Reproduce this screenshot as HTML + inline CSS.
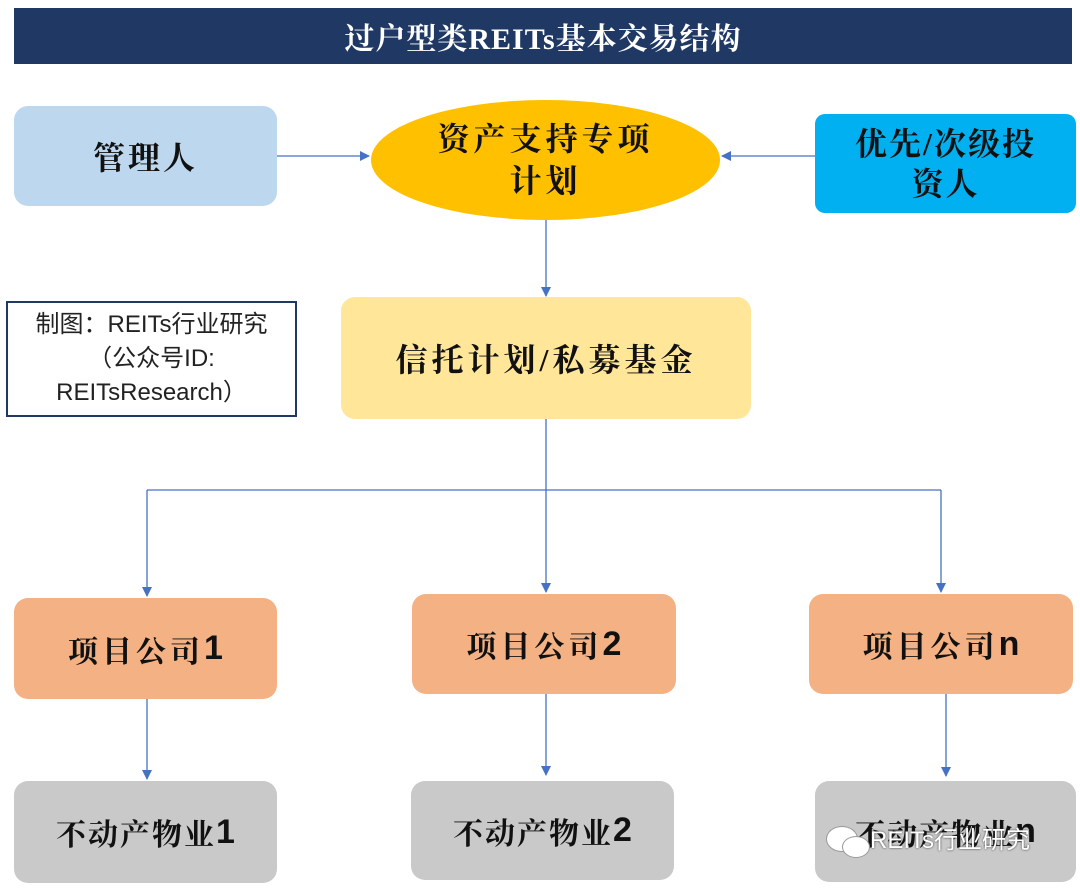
<!DOCTYPE html>
<html><head><meta charset="utf-8"><style>
body{margin:0;width:1080px;height:888px;background:#fff;position:relative;overflow:hidden;font-family:"Liberation Serif","Noto Serif CJK SC",serif}
.b{position:absolute;display:flex;align-items:center;justify-content:center;text-align:center;color:#111;border-radius:14px;box-sizing:border-box;font-weight:bold}
.t{position:absolute;left:14px;top:8px;width:1058px;height:56px;background:#1f3864;color:#fff;font-size:30px;font-weight:bold;display:flex;align-items:center;justify-content:center;letter-spacing:1px}
.p{background:#f4b183;font-size:30px;letter-spacing:4px}
.g{background:#c9c9c9;font-size:30px;letter-spacing:2px}
.n{font-family:"Liberation Sans",sans-serif;font-weight:bold;letter-spacing:0;font-size:34px}
</style></head><body>
<div class="t">过户型类REITs基本交易结构</div>
<svg width="1080" height="888" style="position:absolute;left:0;top:0">
<defs><marker id="a" markerWidth="10" markerHeight="10" refX="9" refY="5" orient="auto" markerUnits="userSpaceOnUse"><path d="M0,0L10,5L0,10z" fill="#4472c4"/></marker></defs>
<g stroke="#4472c4" stroke-width="1.3" fill="none">
<line x1="277" y1="156" x2="369" y2="156" marker-end="url(#a)"/>
<line x1="815" y1="156" x2="722" y2="156" marker-end="url(#a)"/>
<line x1="546" y1="220" x2="546" y2="296" marker-end="url(#a)"/>
<line x1="546" y1="419" x2="546" y2="490"/>
<line x1="147" y1="490" x2="941" y2="490"/>
<line x1="147" y1="490" x2="147" y2="596" marker-end="url(#a)"/>
<line x1="546" y1="490" x2="546" y2="592" marker-end="url(#a)"/>
<line x1="941" y1="490" x2="941" y2="592" marker-end="url(#a)"/>
<line x1="147" y1="699" x2="147" y2="779" marker-end="url(#a)"/>
<line x1="546" y1="694" x2="546" y2="775" marker-end="url(#a)"/>
<line x1="946" y1="694" x2="946" y2="776" marker-end="url(#a)"/>
</g>
<ellipse cx="545.5" cy="160" rx="174.5" ry="60" fill="#ffc000"/>
</svg>
<div class="b" style="left:14px;top:106px;width:263px;height:100px;background:#bdd7ee;font-size:32px;letter-spacing:3px">管理人</div>
<div class="b" style="left:371px;top:100px;width:349px;height:120px;font-size:32px;line-height:42px;letter-spacing:4px">资产支持专项<br>计划</div>
<div class="b" style="left:815px;top:114px;width:261px;height:99px;background:#00b0f0;font-size:32px;line-height:40px;border-radius:10px;letter-spacing:2px">优先/次级投<br>资人</div>
<div class="b" style="left:6px;top:301px;width:291px;height:116px;border:2px solid #1f3864;border-radius:0;font-size:24px;line-height:34px;font-weight:normal;font-family:'Liberation Sans','Noto Sans CJK SC',sans-serif;color:#222">制图：REITs行业研究<br>（公众号ID:<br>REITsResearch）</div>
<div class="b" style="left:341px;top:297px;width:410px;height:122px;background:#ffe699;font-size:32px;letter-spacing:4px">信托计划/私募基金</div>
<div class="b p" style="left:14px;top:598px;width:263px;height:101px">项目公司<span class="n">1</span></div>
<div class="b p" style="left:412px;top:594px;width:264px;height:100px">项目公司<span class="n">2</span></div>
<div class="b p" style="left:809px;top:594px;width:264px;height:100px">项目公司<span class="n">n</span></div>
<div class="b g" style="left:14px;top:781px;width:263px;height:102px">不动产物业<span class="n">1</span></div>
<div class="b g" style="left:411px;top:781px;width:263px;height:99px">不动产物业<span class="n">2</span></div>
<div class="b g" style="left:815px;top:781px;width:261px;height:101px">不动产物业<span class="n">n</span></div>
<div style="position:absolute;left:870px;top:820px;color:#fff;font-size:24px;font-family:'Liberation Sans','Noto Sans CJK SC',sans-serif;text-shadow:0 0 2px #333">REITs行业研究</div>
<div style="position:absolute;left:826px;top:826px;width:30px;height:24px;border-radius:50%;background:#fff;border:1px solid #999"></div>
<div style="position:absolute;left:842px;top:836px;width:26px;height:20px;border-radius:50%;background:#fff;border:1px solid #999"></div>
</body></html>
